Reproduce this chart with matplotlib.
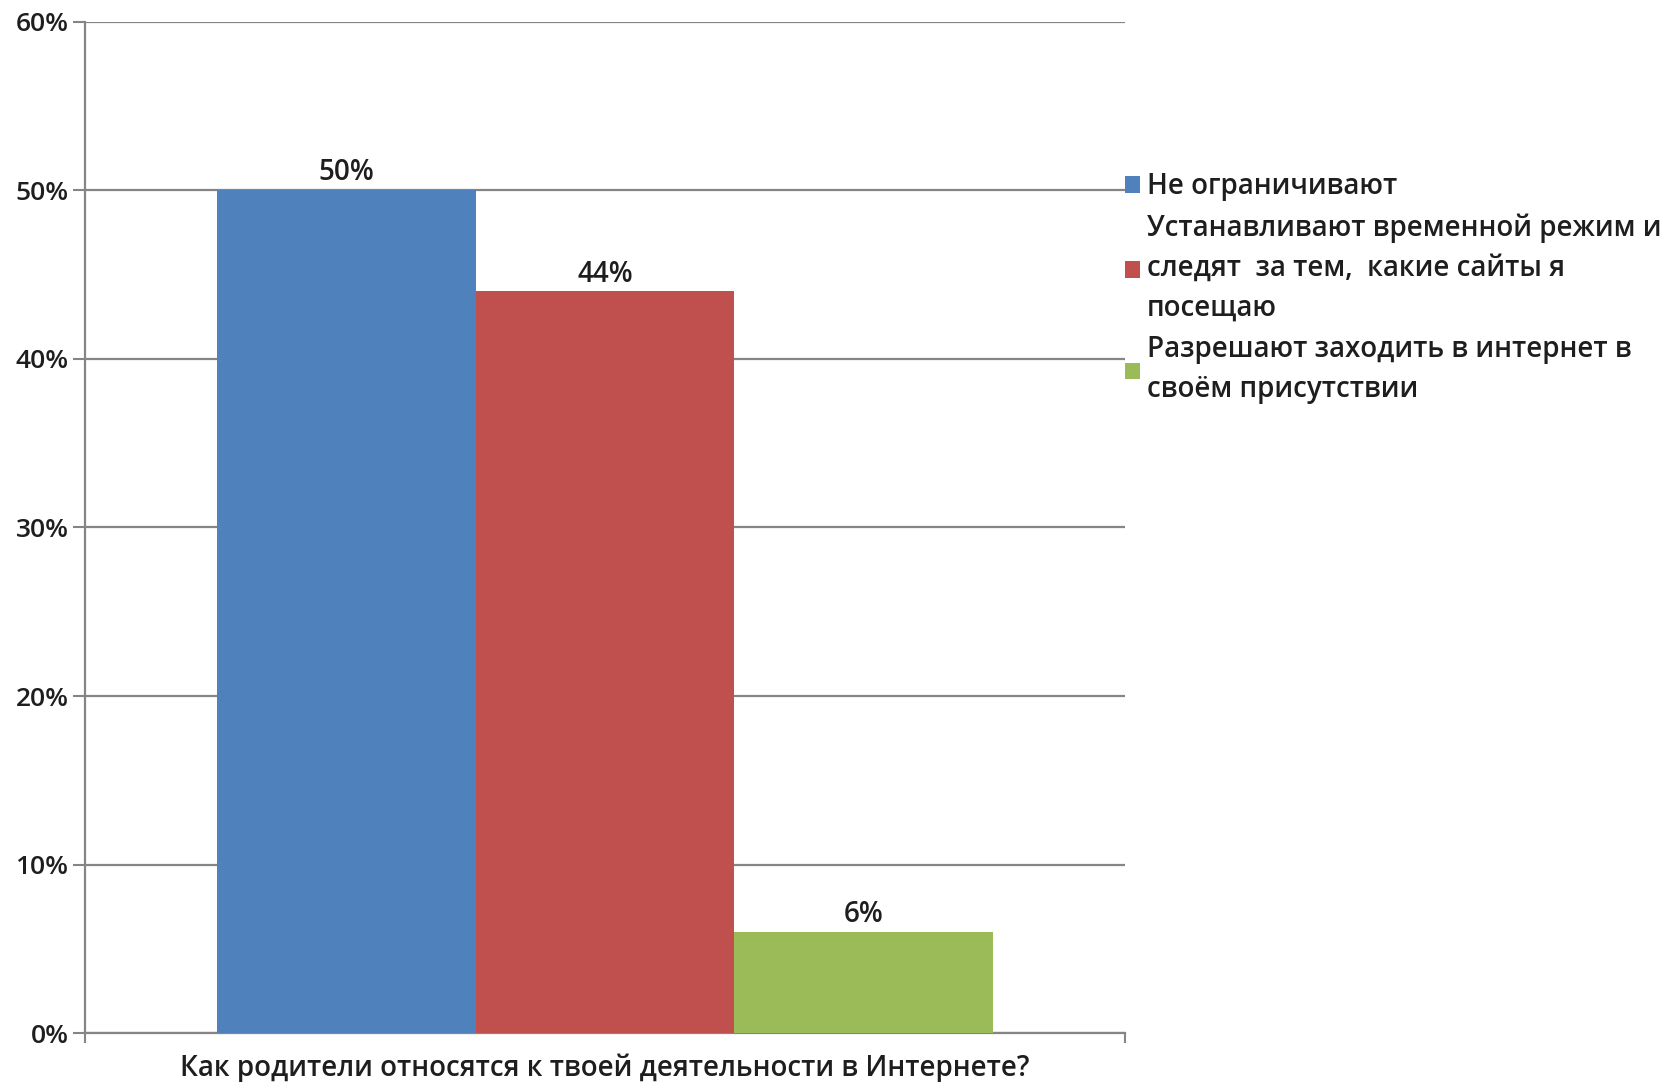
import matplotlib.pyplot as plt
import numpy as np

plt.rcParams['font.family'] = ['Open Sans', 'DejaVu Sans']
plt.rcParams['font.weight'] = 'semibold'

category = 'Как родители относятся к твоей деятельности в Интернете?'
series = ['Не ограничивают',
          'Устанавливают временной режим и\nследят  за тем,  какие сайты я\nпосещаю',
          'Разрешают заходить в интернет в\nсвоём присутствии']
values = [50, 44, 6]
labels = ['50%', '44%', '6%']
colors = ['#4F81BD', '#C0504D', '#9BBB59']
yticks = [0, 10, 20, 30, 40, 50, 60]

grid_col = '#858585'
txt_col = '#1e1e1e'

fig = plt.figure(figsize=(16.69, 10.82), dpi=100)
ax = fig.add_axes([0.051, 0.045, 0.623, 0.935])

w = 0.249
offsets = (np.arange(len(values)) - 1) * w
for off, v, lab, name, c in zip(offsets, values, labels, series, colors):
  ax.bar(0.5 + off, v, width=w, color=c, label=name, zorder=3)
  ax.annotate(lab, (0.5 + off, v), xytext=(0, 2), textcoords='offset points',
              ha='center', va='bottom', fontsize=20, color=txt_col)

ax.set_xlim(0, 1)
ax.set_ylim(0, 60)
ax.set_yticks(yticks)
ax.set_yticklabels(['%d%%' % t for t in yticks], fontsize=19, color=txt_col)
ax.set_xticks([0, 1])
ax.set_xticklabels(['', ''])
ax.tick_params(axis='y', length=9, width=1.5, color=grid_col, pad=3)
ax.tick_params(axis='x', length=7, width=1.5, color=grid_col)
ax.yaxis.grid(True, color=grid_col, linewidth=1.6, zorder=0)
ax.set_axisbelow(True)
for s in ['top', 'right']:
  ax.spines[s].set_visible(False)
for s in ['left', 'bottom']:
  ax.spines[s].set_color(grid_col)
  ax.spines[s].set_linewidth(1.6)

fig.text(0.051 + 0.623 / 2, 0.013, category, ha='center', va='center',
         fontsize=20, color=txt_col)

leg = ax.legend(loc='upper left', bbox_to_anchor=(1.0, 0.851), frameon=False,
                fontsize=20, handlelength=0.55, handleheight=0.55,
                handletextpad=0.25, labelspacing=0.45, borderaxespad=0,
                borderpad=0)
for t in leg.get_texts():
  t.set_color(txt_col)
  t.set_linespacing(1.49)

plt.savefig('out.png', dpi=100)
